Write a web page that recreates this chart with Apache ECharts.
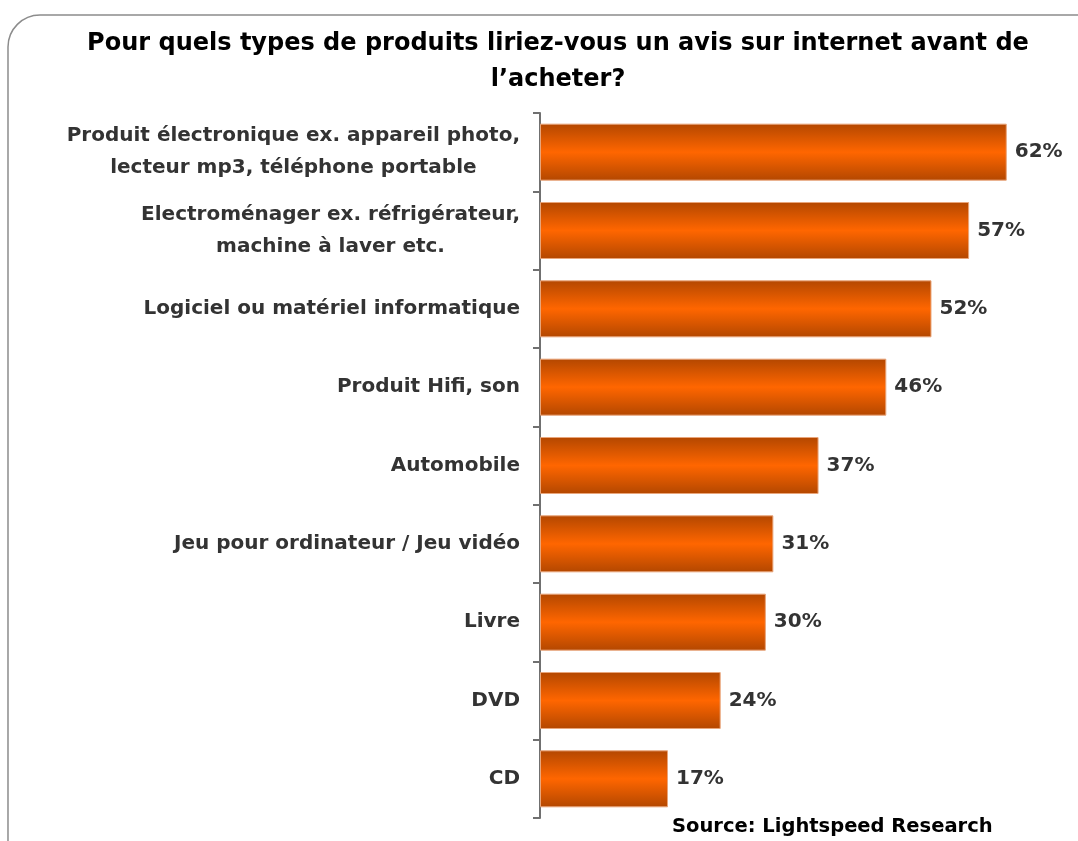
<!DOCTYPE html>
<html>
<head>
<meta charset="utf-8">
<script src="https://cdn.jsdelivr.net/npm/echarts@6/dist/echarts.min.js"></script>
<style>
html,body{margin:0;padding:0;background:#fff;}
#chart{width:1078px;height:841px;}
</style>
</head>
<body>
<div id="chart"></div>
<script>
const titleText = "Pour quels types de produits liriez-vous un avis sur internet avant de\nl\u2019acheter?";
const sourceText = "Source: Lightspeed Research";
const categories = [
  "Produit électronique ex. appareil photo,\nlecteur mp3, téléphone portable",
  "Electroménager ex. réfrigérateur,\nmachine à laver etc.",
  "Logiciel ou matériel informatique",
  "Produit Hifi, son",
  "Automobile",
  "Jeu pour ordinateur / Jeu vidéo",
  "Livre",
  "DVD",
  "CD"
];
const values = [62, 57, 52, 46, 37, 31, 30, 24, 17];

const chart = echarts.init(document.getElementById('chart'));
const FONT = 'DejaVu Sans, Verdana, sans-serif';
chart.setOption({
  backgroundColor: '#ffffff',
  animation: false,
  title: {
    text: titleText,
    left: 553,
    textAlign: 'center',
    top: 21,
    textStyle: {fontFamily: FONT, fontSize: 24, fontWeight: 'bold', color: '#000', lineHeight: 36}
  },
  graphic: [
    {type: 'rect', shape: {x: 8, y: 15, width: 1120, height: 900, r: 32},
     style: {fill: 'none', stroke: '#8c8c8c', lineWidth: 1.5}, z: -1},
    {type: 'text', left: 672, top: 817,
     style: {text: sourceText, font: 'bold 19.5px ' + FONT, fill: '#000'}}
  ],
  grid: {left: 540, top: 113, width: 527, height: 705, containLabel: false},
  xAxis: {
    type: 'value', min: 0, max: 70, show: false
  },
  yAxis: {
    type: 'category',
    data: categories,
    inverse: true,
    axisLine: {show: true, lineStyle: {color: '#707070', width: 2}},
    axisTick: {show: true, length: 7, lineStyle: {color: '#707070', width: 2}},
    axisLabel: {
      margin: 20,
      formatter: function (v) { return '{c|' + v + '}'; },
      rich: {c: {align: 'center', fontFamily: FONT, fontSize: 20, fontWeight: 'bold', color: '#333', lineHeight: 32}}
    }
  },
  series: [{
    type: 'bar',
    data: values,
    barWidth: 57,
    itemStyle: {
      color: new echarts.graphic.LinearGradient(0, 0, 0, 1, [
        {offset: 0, color: '#B34700'},
        {offset: 0.5, color: '#FF6600'},
        {offset: 1, color: '#B34700'}
      ]),
      borderColor: '#E9A57A',
      borderWidth: 1
    },
    label: {
      show: true,
      position: 'right',
      distance: 8,
      formatter: '{c}%',
      fontFamily: FONT, fontSize: 20, fontWeight: 'bold', color: '#333'
    }
  }]
});
</script>
</body>
</html>
